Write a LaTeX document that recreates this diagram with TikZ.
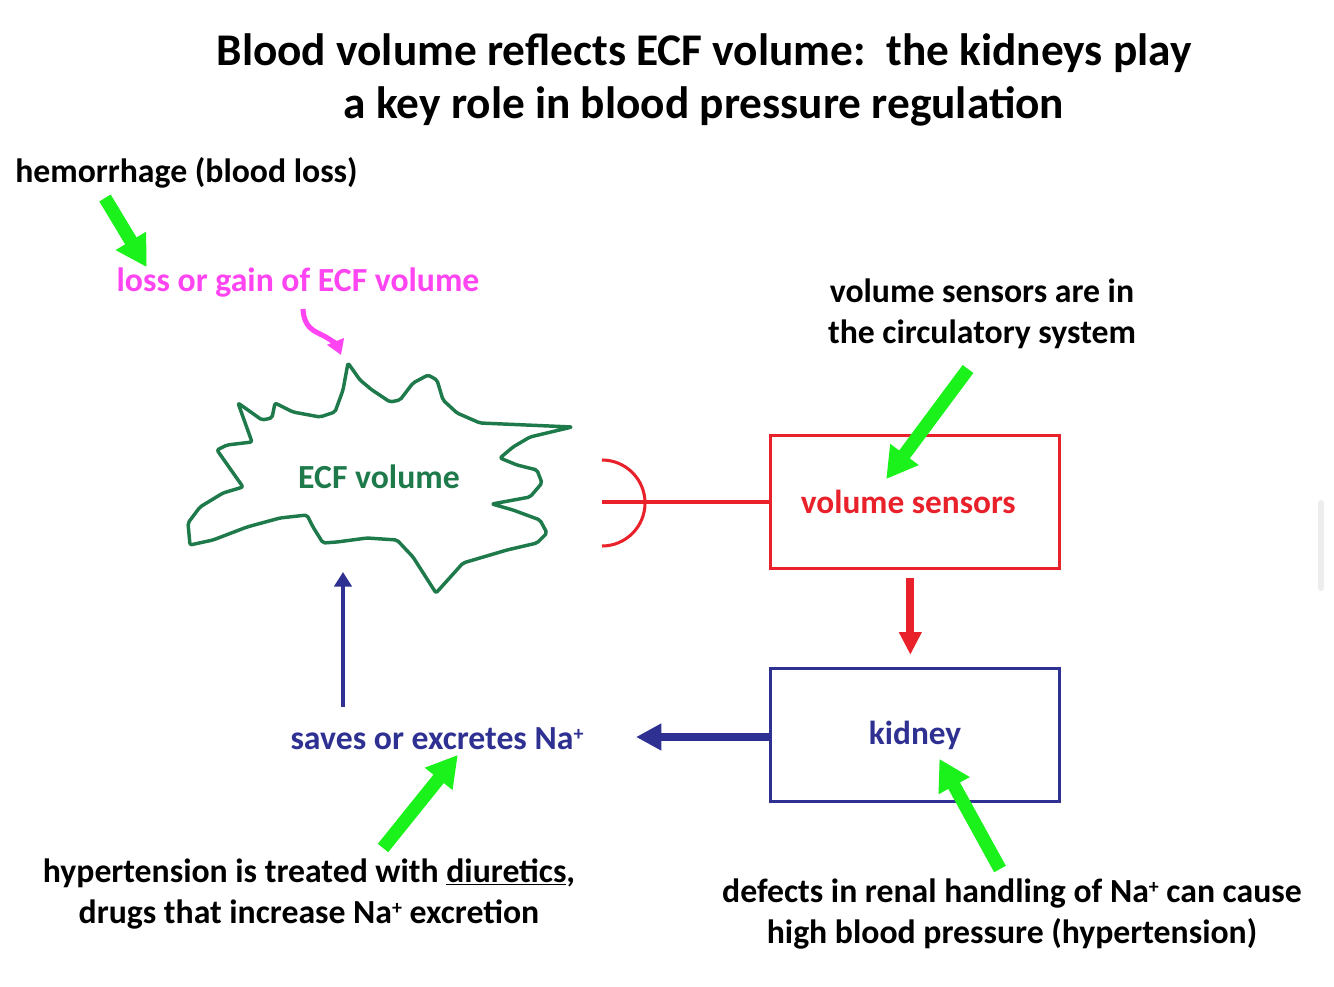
\documentclass[tikz,border=0pt]{standalone}
\usepackage{fontspec}
\setmainfont{Carlito}
\usetikzlibrary{arrows.meta}
\definecolor{ecfgreen}{HTML}{1E7A4A}
\definecolor{pinkc}{HTML}{FF44F2}
\definecolor{sensred}{HTML}{E8212B}
\definecolor{kidblue}{HTML}{2E3192}
\definecolor{brightgreen}{HTML}{1BF21B}
\newcommand{\supplus}{\raisebox{0.55ex}{\fontsize{15}{15}\selectfont +}}
\tikzset{
  bodytext/.style={font=\fontsize{25.3}{30.8}\selectfont\bfseries, align=center, inner sep=0pt},
  greenarrow/.style={draw=brightgreen, line width=10pt, -{Triangle[width=25pt,length=23pt]}, shorten >=-1pt},
  boxstyle/.style={draw, line width=2.3pt, minimum width=217pt, minimum height=100pt, inner sep=0pt}
}
\begin{document}
\begin{tikzpicture}[x=0.75pt,y=-0.75pt]
\useasboundingbox (0,0) rectangle (1334,987);
\fill[white] (0,0) rectangle (1334,987);

% title
\node[font=\fontsize{34}{40}\selectfont\bfseries, align=center, inner sep=0pt] (title) at (704,80)
  {Blood volume reflects ECF volume:\ \ the kidneys play\\a key role in blood pressure regulation};

% top-left texts
\node[bodytext, anchor=west] (hem) at (15,173) {hemorrhage (blood loss)};
\node[bodytext, text=pinkc] (loss) at (298,283) {loss or gain of ECF volume};

% ECF blob
\draw[ecfgreen, line width=2.6pt, line join=round, rounded corners=1.5pt] (348,363) -- (360,380) -- (372,390) -- (390,402) -- (400,400)
  -- (413,383) -- (428,375) -- (437,380) -- (443,400) -- (457,413) -- (480,423) -- (572,427)
  -- (530,437) -- (513,447) -- (500,458) -- (517,465) -- (537,470) -- (542,483) -- (530,497)
  -- (492,504) -- (513,510) -- (540,520) -- (547,533) -- (537,543) -- (507,550) -- (463,563)
  -- (436,593) -- (413,557) -- (397,540) -- (367,538) -- (337,542) -- (323,543) -- (313,527)
  -- (307,515) -- (280,518) -- (247,527) -- (213,540) -- (190,545) -- (188,523) -- (200,507)
  -- (223,493) -- (243,487) -- (217,450) -- (227,445) -- (252,442) -- (238,403) -- (262,420)
  -- (272,418) -- (275,403) -- (293,412) -- (320,417) -- (335,412) -- (343,390) -- cycle;
\node[bodytext, text=ecfgreen] (ecf) at (379,477) {ECF volume};

% pink curly arrow
\coordinate (pinkstart) at (303,309);
\coordinate (pinkend) at (341,355);
\draw[pinkc, line width=3.8pt, -{Triangle[width=13pt,length=11pt]}]
  (pinkstart) .. controls (304,328) and (314,331) .. (324,336) .. controls (333,341) and (337,345) .. (pinkend);

% green arrow hemorrhage
\coordinate (g1s) at (105,198);
\coordinate (g1e) at (146,266);
\draw[greenarrow] (g1s) -- (g1e);

% volume sensors box
\node[boxstyle, draw=sensred, text=sensred, font=\fontsize{25}{30}\selectfont\bfseries] (sens) at (915,502) {\hspace*{-10pt}volume sensors};
\node[bodytext] (senstext) at (982,314) {volume sensors are in\\the circulatory system};

% sensor connector and receptor arc
\coordinate (arcc) at (602,502);
\draw[sensred, line width=2.3pt] (arcc) -- (sens.west);
\draw[sensred, line width=2.3pt] (602,460) arc[start angle=-90, end angle=90, radius=43];

% green arrow to sensors
\coordinate (g2s) at (968,369);
\coordinate (g2e) at (887,478);
\draw[greenarrow] (g2s) -- (g2e);

% kidney box
\node[boxstyle, draw=kidblue, text=kidblue, font=\fontsize{25}{30}\selectfont\bfseries] (kid) at (915,735) {kidney};

% red arrow sensors -> kidney
\draw[sensred, line width=6pt, -{Triangle[width=16pt,length=17pt]}] ([xshift=-3.5pt,yshift=-6pt]sens.south) -- ([xshift=-3.5pt,yshift=9pt]kid.north);

% saves text
\node[bodytext, text=kidblue] (saves) at (437,739) {saves or excretes Na\supplus};

% blue arrow kidney -> saves
\draw[kidblue, line width=6pt, -{Triangle[width=19pt,length=19pt]}] (kid.west |- 0,737) -- (636,737);

% blue arrow saves -> ECF
\coordinate (bupstart) at (343,707);
\coordinate (bupend) at (343,572);
\draw[kidblue, line width=3.5pt, -{Triangle[width=13pt,length=11pt]}] (bupstart) -- (bupend);

% bottom-left text
\node[bodytext] (diur) at (309,894) {hypertension is treated with \underline{diuretics},\\drugs that increase Na\supplus\ excretion};
\coordinate (g3s) at (383,848);
\coordinate (g3e) at (457,756);
\draw[greenarrow] (g3s) -- (g3e);

% bottom-right text
\node[bodytext] (defect) at (1012,914) {defects in renal handling of Na\supplus\ can cause\\high blood pressure (hypertension)};
\coordinate (g4s) at (1000,869);
\coordinate (g4e) at (940,760);
\draw[greenarrow] (g4s) -- (g4e);

% scrollbar artefact
\coordinate (sb1) at (1321,503);
\coordinate (sb2) at (1321,588);
\draw[black!7, line width=4.5pt, line cap=round] (sb1) -- (sb2);
\end{tikzpicture}
\end{document}
